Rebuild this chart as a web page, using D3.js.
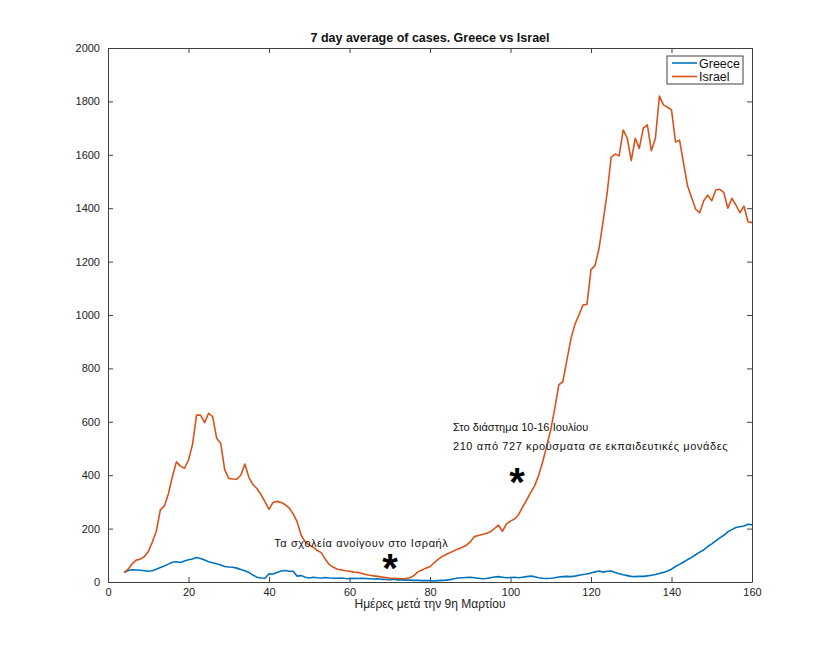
<!DOCTYPE html>
<html>
<head>
<meta charset="utf-8">
<script src="https://cdn.jsdelivr.net/npm/d3@7"></script>
<style>
  body { margin: 0; background: #fff; }
  text { font-family: "Liberation Sans", Arial, sans-serif; }
</style>
</head>
<body>
<div id="chart"></div>
<script>
// days after 9 March, first value is day 4
var startDay = 4;

var israel = [35, 48, 68, 82, 85, 95, 113, 150, 190, 270, 285, 330, 395, 450, 434, 426, 457,
  515, 625, 625, 597, 632, 619, 538, 520, 420, 388, 386, 385, 400, 442, 392, 365, 350, 328,
  300, 272, 298, 302, 298, 290, 278, 255, 225, 175, 150, 138, 130, 118, 110, 85, 65, 55, 48,
  45, 42, 40, 37, 36, 33, 28, 25, 23, 21, 19, 17, 15, 14, 13, 12, 13, 16, 24, 38, 45, 52, 57,
  72, 85, 95, 103, 110, 117, 124, 130, 137, 150, 170, 174, 178, 182, 188, 200, 213, 190, 218,
  228, 236, 252, 280, 307, 335, 360, 400, 450, 510, 570, 650, 738, 750, 830, 910, 965, 1000,
  1037, 1040, 1170, 1185, 1250, 1350, 1456, 1590, 1603, 1596, 1693, 1662, 1578, 1662, 1624,
  1700, 1712, 1615, 1662, 1820, 1787, 1778, 1768, 1648, 1655, 1568, 1483, 1440, 1396, 1383,
  1428, 1449, 1428, 1468, 1471, 1458, 1400, 1437, 1412, 1383, 1408, 1349, 1346];

var greece = [35, 43, 46, 45, 44, 42, 40, 42, 48, 54, 60, 67, 74, 76, 73, 79, 83, 86, 92, 88,
  82, 76, 72, 68, 64, 58, 56, 55, 52, 47, 42, 36, 26, 18, 15, 14, 31, 30, 36, 41, 43, 40, 40,
  22, 24, 18, 15, 18, 16, 15, 17, 15, 14, 14, 15, 13, 12, 14, 13, 14, 13, 12, 11, 12, 10, 10,
  9, 10, 8, 8, 7, 7, 6, 6, 5, 5, 5, 4, 5, 6, 7, 9, 12, 15, 16, 17, 18, 16, 14, 12, 13, 16, 19,
  20, 18, 16, 17, 18, 16, 18, 20, 22, 20, 16, 14, 13, 14, 16, 19, 20, 21, 20, 22, 25, 28, 30,
  34, 38, 41, 37, 40, 41, 36, 31, 27, 24, 21, 20, 21, 21, 23, 25, 28, 32, 36, 41, 48, 58, 66,
  75, 84, 92, 102, 112, 120, 133, 143, 154, 165, 175, 188, 196, 204, 207, 210, 216, 214];

var xTicks = [0, 20, 40, 60, 80, 100, 120, 140, 160];
var yTicks = [0, 200, 400, 600, 800, 1000, 1200, 1400, 1600, 1800, 2000];

var series = [
  {name: "Greece", values: greece, color: "#0072BD"},
  {name: "Israel", values: israel, color: "#D95319"}
];

// annotations: star centre and text start, in [day, cases]
var notes = [
  {star: [70.1, 71], at: [41.3, 131], lines: ["Τα σχολεία ανοίγουν στο Ισραήλ"], spacing: [0.6]},
  {star: [101.6, 393], at: [85.7, 565], lines: ["Στο διάστημα 10-16 Ιουλίου",
    "210 από 727 κρούσματα σε εκπαιδευτικές μονάδες"], spacing: [0.05, 0.6]}
];

var width = 830, height = 655;
var margin = {top: 48, right: 78, bottom: 73, left: 108};

var svg = d3.select("#chart").append("svg")
  .attr("width", width)
  .attr("height", height);

var x = d3.scaleLinear().domain([0, 160]).range([margin.left, width - margin.right]);
var y = d3.scaleLinear().domain([0, 2000]).range([height - margin.bottom, margin.top]);

var axisColor = "#404040";

// inward ticks on all four sides, like the matlab box
function styleAxis(g){
  g.select(".domain").attr("stroke", axisColor);
  g.selectAll(".tick line").attr("stroke", axisColor);
  g.selectAll(".tick text").attr("fill", "#222").attr("font-size", 11);
}

svg.append("g")
  .attr("transform", "translate(0," + y(0) + ")")
  .call(d3.axisBottom(x).tickValues(xTicks).tickSizeInner(-5).tickSizeOuter(0).tickPadding(6))
  .call(styleAxis);

svg.append("g")
  .attr("transform", "translate(0," + y(2000) + ")")
  .call(d3.axisTop(x).tickValues(xTicks).tickSizeInner(-5).tickSizeOuter(0).tickFormat(""))
  .call(styleAxis);

svg.append("g")
  .attr("transform", "translate(" + x(0) + ",0)")
  .call(d3.axisLeft(y).tickValues(yTicks).tickFormat(d3.format("d"))
    .tickSizeInner(-5).tickSizeOuter(0).tickPadding(8))
  .call(styleAxis);

svg.append("g")
  .attr("transform", "translate(" + x(160) + ",0)")
  .call(d3.axisRight(y).tickValues(yTicks).tickSizeInner(-5).tickSizeOuter(0).tickFormat(""))
  .call(styleAxis);

var line = d3.line()
  .x(function(d, i){ return x(startDay + i); })
  .y(function(d){ return y(d); });

svg.selectAll("path.series").data(series).enter().append("path")
  .attr("class", "series")
  .attr("d", function(d){ return line(d.values); })
  .attr("fill", "none")
  .attr("stroke", function(d){ return d.color; })
  .attr("stroke-width", 1.6)
  .attr("stroke-linejoin", "round");

// title and x label
svg.append("text")
  .attr("x", (x(0) + x(160)) / 2)
  .attr("y", 42)
  .attr("text-anchor", "middle")
  .attr("font-size", 12.5)
  .attr("font-weight", "bold")
  .attr("fill", "#111")
  .text("7 day average of cases. Greece vs Israel");

svg.append("text")
  .attr("x", (x(0) + x(160)) / 2)
  .attr("y", 608)
  .attr("text-anchor", "middle")
  .attr("font-size", 12)
  .attr("fill", "#222")
  .text("Ημέρες μετά την 9η Μαρτίου");

// annotations
var starSize = 40;
notes.forEach(function(n){
  svg.append("text")
    .attr("x", x(n.star[0]))
    .attr("y", y(n.star[1]) + starSize * 0.47)
    .attr("text-anchor", "middle")
    .attr("font-size", starSize)
    .attr("font-weight", "bold")
    .attr("fill", "#000")
    .text("*");
  n.lines.forEach(function(t, i){
    svg.append("text")
      .attr("x", x(n.at[0]))
      .attr("y", y(n.at[1]) + i * 19)
      .attr("font-size", 11)
      .attr("letter-spacing", n.spacing[i])
      .attr("fill", "#111")
      .text(t);
  });
});

// legend
var lg = svg.append("g").attr("transform", "translate(667,56)");
lg.append("rect")
  .attr("width", 76).attr("height", 28)
  .attr("fill", "#fff").attr("stroke", axisColor);
series.forEach(function(s, i){
  lg.append("line")
    .attr("x1", 5).attr("x2", 30)
    .attr("y1", 7 + i * 13.5).attr("y2", 7 + i * 13.5)
    .attr("stroke", s.color).attr("stroke-width", 1.6);
  lg.append("text")
    .attr("x", 32).attr("y", 11.5 + i * 13.5)
    .attr("font-size", 12.5)
    .attr("fill", "#111")
    .text(s.name);
});
</script>
</body>
</html>
